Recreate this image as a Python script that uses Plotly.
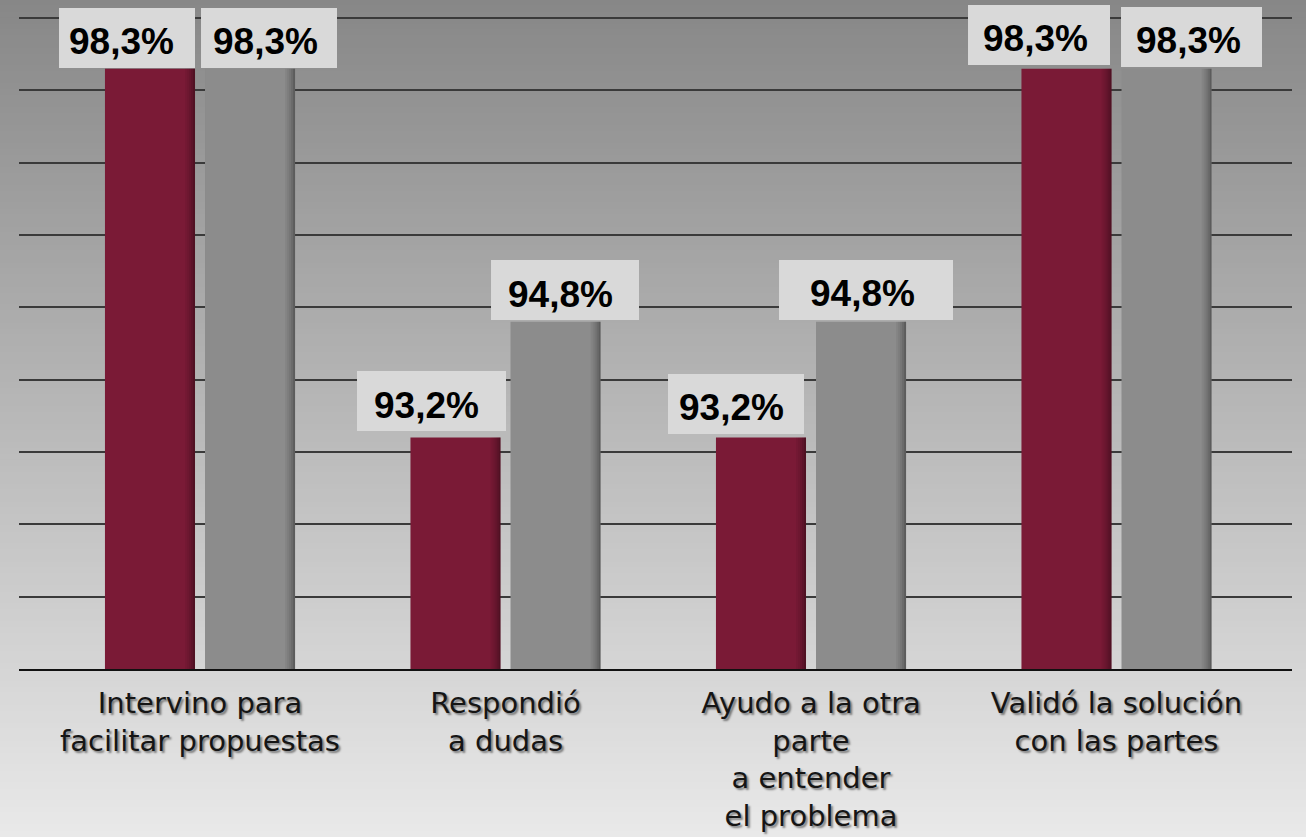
import plotly.graph_objects as go

# ---------------- data ----------------
categories = [
    "Intervino para<br>facilitar propuestas",
    "Respondió<br>a dudas",
    "Ayudo a la otra<br>parte<br>a entender<br>el problema",
    "Validó la solución<br>con las partes",
]
serie_1 = [98.3, 93.2, 93.2, 98.3]
serie_2 = [98.3, 94.8, 94.8, 98.3]
labels_1 = ["98,3%", "93,2%", "93,2%", "98,3%"]
labels_2 = ["98,3%", "94,8%", "94,8%", "98,3%"]
y_tick_values = [90, 91, 92, 93, 94, 95, 96, 97, 98, 99]

# ---------------- style ----------------
W, H = 1306, 837
ML, MR, MT, MB = 19, 14, 0, 168
COL_1 = "#7a1a36"
COL_2 = "#8c8c8c"
BOX_COL = "#d9d9d9"
BARGAP, BARGROUPGAP = 0.345, 0.1
Y_MIN = 90

# label boxes: pixel offsets relative to (category centre, bar top): x0, x1, y0(bottom), y1(top), y positive up
box_1 = [(-141, -5, 0.7, 60.7), (-148.5, 0.5, 6.5, 66.5), (-143, -7, 3.5, 63.5), (-148.5, -6.5, 3.7, 63.7)]
box_2 = [(1, 137, 0.7, 60.7), (-14.5, 133.5, 1.8, 61.8), (-32, 142, 1.8, 61.8), (4.5, 145.5, 1.7, 61.7)]
# label text: (xshift of text left edge, yshift of text centre)
txt_1 = [(-132, 27), (-132.5, 32), (-133, 30.5), (-134.5, 30)]
txt_2 = [(11.5, 27), (1.5, 27.3), (-2, 28.3), (18.5, 27.7)]

x_idx = list(range(len(categories)))

fig = go.Figure()
fig.add_trace(go.Bar(x=x_idx, y=serie_1, marker=dict(color=COL_1, line=dict(width=0)),
                     hoverinfo="skip", showlegend=False))
fig.add_trace(go.Bar(x=x_idx, y=serie_2, marker=dict(color=COL_2, line=dict(width=0)),
                     hoverinfo="skip", showlegend=False))

shapes = []
# gradient background (bands in paper coordinates)
n_bands = 140
pw = W - ML - MR
ph = H - MT - MB
top_c, bot_c = 135, 233
for k in range(n_bands):
    y_top_px = H * k / n_bands
    y_bot_px = H * (k + 1) / n_bands
    t = (k + 0.5) / n_bands
    c = int(round(top_c + (bot_c - top_c) * t))
    shapes.append(dict(
        type="rect", xref="paper", yref="paper", layer="below",
        x0=-ML / pw - 0.01, x1=1 + MR / pw + 0.01,
        y0=1 - (y_bot_px - MT) / ph - 0.001, y1=1 - (y_top_px - MT) / ph + 0.001,
        fillcolor=f"rgb({c},{c},{c})", line=dict(width=0),
    ))

# soft shading along the right edge of every bar (derived from bar geometry)
slot = (1 - BARGAP) / 2
half_bar = slot * (1 - BARGROUPGAP) / 2
shade_alpha = [0.05, 0.10, 0.16, 0.24, 0.34]
for i in x_idx:
    for s_idx, vals in enumerate((serie_1, serie_2)):
        centre = i - slot / 2 + s_idx * slot
        right_edge = centre + half_bar
        for j, a in enumerate(shade_alpha):
            shapes.append(dict(
                type="rect", xref="x", yref="y", layer="above",
                xsizemode="pixel", xanchor=right_edge,
                x0=-2 * (len(shade_alpha) - j), x1=-2 * (len(shade_alpha) - j) + 2,
                y0=Y_MIN, y1=vals[i],
                fillcolor=f"rgba(0,0,0,{a})", line=dict(width=0),
            ))

annotations = []
for i in x_idx:
    for vals, labs, boxes, txts in ((serie_1, labels_1, box_1, txt_1), (serie_2, labels_2, box_2, txt_2)):
        bx = boxes[i]
        shapes.append(dict(
            type="rect", xref="x", yref="y", layer="above",
            xsizemode="pixel", ysizemode="pixel",
            xanchor=i, yanchor=vals[i],
            x0=bx[0], x1=bx[1], y0=bx[2], y1=bx[3],
            fillcolor=BOX_COL, line=dict(width=0),
        ))
        tx = txts[i]
        annotations.append(dict(
            x=i, y=vals[i], xref="x", yref="y", text=labs[i], showarrow=False,
            xanchor="left", yanchor="middle", xshift=tx[0], yshift=tx[1],
            borderpad=0,
            font=dict(family="Liberation Sans, Arial, sans-serif", size=37, color="#000000", weight="bold"),
        ))

fig.update_layout(
    width=W, height=H,
    margin=dict(l=ML, r=MR, t=MT, b=MB, pad=0),
    paper_bgcolor="#b0b0b0",
    plot_bgcolor="rgba(0,0,0,0)",
    barmode="group", bargap=BARGAP, bargroupgap=BARGROUPGAP,
    shapes=shapes, annotations=annotations,
    xaxis=dict(
        range=[-0.5925, -0.5925 + pw / 305.5],
        tickmode="array", tickvals=x_idx, ticktext=categories,
        showgrid=False, zeroline=False,
        showline=True, linecolor="#111111", linewidth=2,
        ticks="", ticklabelstandoff=7,
        tickfont=dict(family="DejaVu Sans, sans-serif", size=29, color="#151515",
                      shadow="2px 2px 2px rgba(0,0,0,0.45)"),
        fixedrange=True,
    ),
    yaxis=dict(
        range=[Y_MIN, Y_MIN + ph / 72.33],
        tickmode="array", tickvals=y_tick_values,
        showticklabels=False, ticks="",
        showgrid=True, gridcolor="#3a3a3a", gridwidth=2,
        zeroline=False, showline=False, fixedrange=True,
    ),
)

fig.write_html(
    "out.html",
    config={"displayModeBar": False},
    post_script="document.body.style.margin='0px';document.body.style.padding='0px';document.body.style.overflow='hidden';",
)
